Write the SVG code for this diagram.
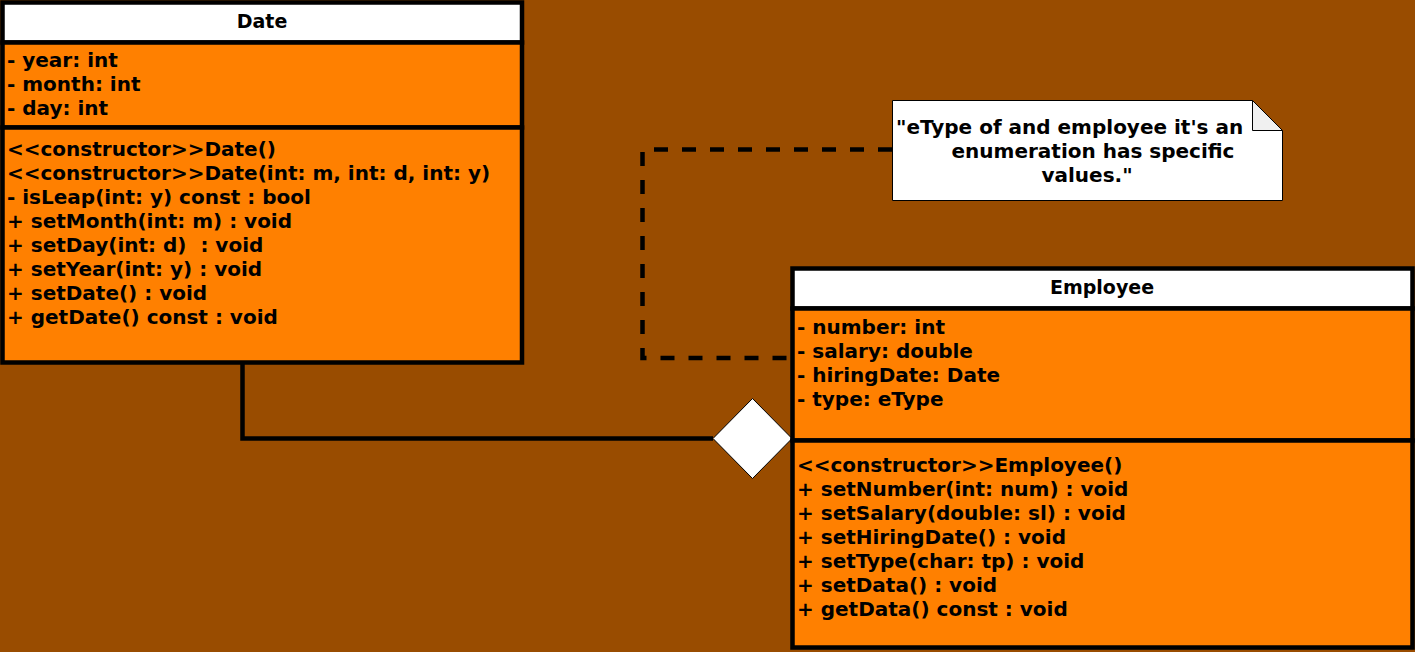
<svg xmlns="http://www.w3.org/2000/svg" width="1415" height="652" viewBox="0 0 1415 652">
<style>
.box{stroke:#000;stroke-width:4.5}
.hdr{fill:#fff}
.body{fill:#FF8000}
.t{font-family:"DejaVu Sans","Liberation Sans",sans-serif;font-weight:bold;font-size:20px;fill:#000}
.h{text-anchor:middle;font-size:19px}
.n{text-anchor:middle}
.conn{fill:none;stroke:#000;stroke-width:4.5}
.dash{stroke-dasharray:14 14}
</style>
<rect x="0" y="0" width="1415" height="652" fill="#994C00"/>
<g id="connectors">
<path class="conn dash" d="M892,149.5 H642.5 V358 H792"/>
<path class="conn" d="M242.5,363 V438.5 H713"/>
<polygon points="713,438.5 752.5,398.5 792,438.5 752.5,478.5" fill="#fff" stroke="#000" stroke-width="1"/>
</g>
<g id="date">
<rect class="box hdr" x="2.5" y="2.5" width="519.5" height="40"/>
<rect class="box body" x="2.5" y="42.5" width="519.5" height="85"/>
<rect class="box body" x="2.5" y="127.5" width="519.5" height="235"/>
<text class="t h" x="262" y="28">Date</text>
<text class="t" x="7" y="67">- year: int</text>
<text class="t" x="7" y="91">- month: int</text>
<text class="t" x="7" y="115">- day: int</text>
<text class="t" x="7" y="156">&lt;&lt;constructor&gt;&gt;Date()</text>
<text class="t" x="7" y="180">&lt;&lt;constructor&gt;&gt;Date(int: m, int: d, int: y)</text>
<text class="t" x="7" y="204">- isLeap(int: y) const : bool</text>
<text class="t" x="7" y="228">+ setMonth(int: m) : void</text>
<text class="t" x="7" y="252" xml:space="preserve">+ setDay(int: d)  : void</text>
<text class="t" x="7" y="276">+ setYear(int: y) : void</text>
<text class="t" x="7" y="300">+ setDate() : void</text>
<text class="t" x="7" y="324">+ getDate() const : void</text>
</g>
<g id="employee">
<rect class="box hdr" x="792.5" y="268.5" width="620" height="40"/>
<rect class="box body" x="792.5" y="308.5" width="620" height="132"/>
<rect class="box body" x="792.5" y="440.5" width="620" height="207"/>
<text class="t h" x="1102" y="294">Employee</text>
<text class="t" x="797" y="334">- number: int</text>
<text class="t" x="797" y="358">- salary: double</text>
<text class="t" x="797" y="382">- hiringDate: Date</text>
<text class="t" x="797" y="406">- type: eType</text>
<text class="t" x="797" y="472">&lt;&lt;constructor&gt;&gt;Employee()</text>
<text class="t" x="797" y="496">+ setNumber(int: num) : void</text>
<text class="t" x="797" y="520">+ setSalary(double: sl) : void</text>
<text class="t" x="797" y="544">+ setHiringDate() : void</text>
<text class="t" x="797" y="568">+ setType(char: tp) : void</text>
<text class="t" x="797" y="592">+ setData() : void</text>
<text class="t" x="797" y="616">+ getData() const : void</text>
</g>
<g id="note">
<polygon points="892.5,100.5 1252.5,100.5 1282.5,130.5 1282.5,200.5 892.5,200.5" fill="#fff" stroke="#000" stroke-width="1"/>
<polygon points="1252.5,100.5 1252.5,130.5 1282.5,130.5" fill="#f0f0f0" stroke="#000" stroke-width="1"/>
<text class="t" x="896" y="134">"eType of and employee it's an</text>
<text class="t n" x="1093" y="158">enumeration has specific</text>
<text class="t n" x="1087" y="182">values."</text>
</g>
</svg>
